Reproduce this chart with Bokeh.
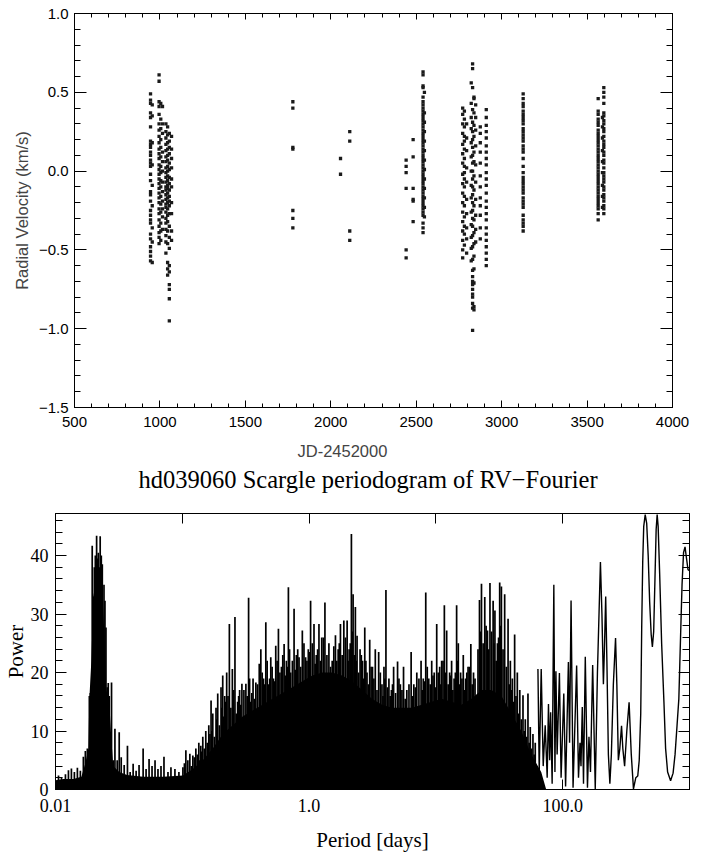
from bokeh.plotting import figure
from bokeh.layouts import column
from bokeh.models import FixedTicker, LinearAxis, LogAxis, CustomJSTickFormatter, Title
from bokeh.embed import file_html
from bokeh.resources import INLINE

# ---------------- top panel: radial velocities ----------------
season_jd = [945, 955, 995, 1005, 1015, 1035, 1045, 1055, 1068,
             1778, 2057, 2111, 2441, 2482, 2540, 2548,
             2772, 2782, 2795, 2822, 2830, 2838, 2848, 2875, 2910,
             3126, 3565, 3590, 3598]
season_rv = [
    [0.49, 0.45, 0.43, 0.37, 0.34, 0.28, 0.19, 0.17, 0.15, 0.12, 0.10, 0.07, 0.05, 0.03, -0.02,
     -0.06, -0.13, -0.15, -0.19, -0.25, -0.28, -0.31, -0.33, -0.40, -0.43, -0.48, -0.51, -0.54, -0.57],
    [0.42, 0.35, 0.18, 0.04, -0.09, -0.22, -0.36, -0.45, -0.58],
    [0.61, 0.57, 0.44, 0.41, 0.36, 0.30, 0.26, 0.22, 0.18, 0.14, 0.11, 0.08, 0.04, 0.01, -0.02,
     -0.05, -0.08, -0.11, -0.14, -0.17, -0.20, -0.24, -0.27, -0.31, -0.35, -0.39, -0.42, -0.46],
    [0.43, 0.33, 0.27, 0.20, 0.15, 0.09, 0.03, -0.01, -0.06, -0.10, -0.16, -0.21, -0.26, -0.33, -0.38, -0.44],
    [0.41, 0.30, 0.24, 0.12, 0.06, 0.0, -0.07, -0.13, -0.19, -0.24, -0.29, -0.37],
    [0.30, 0.25, 0.21, 0.17, 0.13, 0.09, 0.06, 0.02, -0.01, -0.04, -0.07, -0.10, -0.12, -0.15, -0.18,
     -0.21, -0.23, -0.26, -0.30, -0.33, -0.37, -0.41, -0.45, -0.52],
    [0.28, 0.23, 0.18, 0.14, 0.10, 0.07, 0.03, 0.0, -0.03, -0.06, -0.09, -0.11, -0.14, -0.17, -0.20,
     -0.24, -0.28, -0.32, -0.38, -0.46, -0.58, -0.62, -0.66],
    [0.24, 0.19, 0.15, 0.11, 0.05, 0.01, -0.04, -0.08, -0.12, -0.16, -0.19, -0.22, -0.27, -0.35, -0.42,
     -0.49, -0.60, -0.64, -0.72, -0.75, -0.81, -0.95],
    [0.22, 0.14, 0.08, 0.02, -0.05, -0.10, -0.20, -0.27, -0.38, -0.44],
    [0.44, 0.40, 0.15, 0.14, -0.25, -0.30, -0.36],
    [0.08, -0.02],
    [0.25, 0.19, -0.38, -0.44],
    [0.07, 0.03, -0.01, -0.11, -0.50, -0.55],
    [0.20, 0.09, -0.11, -0.18, -0.19, -0.32],
    [0.63, 0.61, 0.54, 0.53, 0.47, 0.44, 0.42, 0.40, 0.38, 0.36, 0.34, 0.32, 0.30, 0.28, 0.26, 0.24,
     0.22, 0.20, 0.18, 0.16, 0.14, 0.12, 0.10, 0.08, 0.06, 0.04, 0.02, 0.0, -0.02, -0.04, -0.06, -0.08,
     -0.10, -0.12, -0.14, -0.16, -0.18, -0.20, -0.22, -0.24, -0.26, -0.28, -0.33, -0.36, -0.39],
    [0.50, 0.37, 0.31, 0.25, 0.19, 0.13, 0.07, 0.01, -0.05, -0.11, -0.17, -0.23, -0.29],
    [0.40, 0.36, 0.30, 0.24, 0.17, 0.11, 0.05, -0.02, -0.08, -0.14, -0.20, -0.26, -0.32, -0.38, -0.44, -0.50, -0.55],
    [0.38, 0.33, 0.28, 0.22, 0.19, 0.14, 0.08, 0.03, -0.01, -0.05, -0.10, -0.16, -0.22, -0.29, -0.35, -0.40, -0.47],
    [0.30, 0.21, 0.13, 0.02, -0.07, -0.18, -0.27, -0.36, -0.43, -0.52],
    [0.56, 0.43, 0.34, 0.27, 0.18, 0.09, 0.0, -0.09, -0.17, -0.26, -0.34, -0.42, -0.49, -0.57],
    [0.68, 0.65, 0.53, 0.39, 0.31, 0.25, 0.20, 0.15, 0.10, 0.05, 0.0, -0.05, -0.10, -0.15, -0.20, -0.25,
     -0.30, -0.35, -0.41, -0.48, -0.56, -0.63, -0.67, -0.70, -0.72, -0.75, -0.78, -0.80, -0.84, -0.87, -1.01],
    [0.47, 0.46, 0.37, 0.29, 0.22, 0.12, 0.06, -0.03, -0.12, -0.22, -0.31, -0.39, -0.46, -0.54, -0.62, -0.71, -0.86, -0.88],
    [0.42, 0.34, 0.26, 0.16, 0.04, -0.07, -0.18, -0.28, -0.37, -0.45],
    [0.28, 0.24, 0.18, 0.12, 0.05, -0.03, -0.10, -0.17, -0.22, -0.28, -0.36, -0.43],
    [0.39, 0.34, 0.29, 0.25, 0.21, 0.16, 0.12, 0.08, 0.04, -0.01, -0.05, -0.09, -0.14, -0.19, -0.23,
     -0.27, -0.31, -0.36, -0.40, -0.44, -0.48, -0.52, -0.56, -0.60],
    [0.49, 0.46, 0.43, 0.41, 0.38, 0.36, 0.34, 0.32, 0.30, 0.27, 0.25, 0.23, 0.21, 0.19, 0.16, 0.14,
     0.12, 0.08, 0.03, -0.01, -0.04, -0.06, -0.08, -0.10, -0.12, -0.14, -0.17, -0.19, -0.21, -0.23,
     -0.28, -0.31, -0.33, -0.35, -0.38],
    [0.46, 0.38, 0.36, 0.33, 0.31, 0.29, 0.26, 0.24, 0.22, 0.20, 0.18, 0.16, 0.14, 0.12, 0.10, 0.08,
     0.06, 0.04, 0.02, 0.0, -0.02, -0.04, -0.06, -0.08, -0.10, -0.12, -0.14, -0.16, -0.18, -0.20,
     -0.22, -0.24, -0.27, -0.31],
    [0.34, 0.28, 0.21, 0.13, 0.06, -0.01, -0.09, -0.16, -0.23],
    [0.53, 0.50, 0.47, 0.43, 0.37, 0.35, 0.32, 0.30, 0.27, 0.25, 0.22, 0.19, 0.17, 0.15, 0.12, 0.10,
     0.07, 0.05, 0.02, -0.01, -0.03, -0.05, -0.07, -0.10, -0.12, -0.15, -0.17, -0.19, -0.22, -0.24, -0.27],
]
jd_tick_values = [500, 1000, 1500, 2000, 2500, 3000, 3500, 4000]
rv_tick_values = [-1.5, -1.0, -0.5, 0.0, 0.5, 1.0]
rv_tick_labels = ["\u22121.5", "\u22121.0", "\u22120.5", "0.0", "0.5", "1.0"]

# ---------------- bottom panel: periodogram ----------------
body_period = [0.0100, 0.01156, 0.01384, 0.0160, 0.0172, 0.01816, 0.01849, 0.01917, 0.01988, 0.02098,
               0.02215, 0.02339, 0.02424, 0.02514, 0.02654, 0.02751, 0.02853, 0.0318, 0.0367, 0.0491,
               0.0705, 0.1011, 0.1211, 0.1451, 0.1739, 0.2084, 0.250, 0.299, 0.358, 0.429,
               0.514, 0.616, 0.738, 0.884, 1.06, 1.27, 1.52, 1.82, 2.18, 2.62,
               3.13, 3.76, 4.50, 5.39, 6.46, 7.74, 9.27, 11.1, 13.3, 15.9,
               19.1, 22.9, 27.4, 32.9, 39.4, 47.1, 56.5, 67.7, 74.1]
body_power = [1.6, 1.8, 1.8, 2.2, 4.5, 7, 15.5, 22, 33, 36,
              37, 34, 27, 17, 15, 9, 4, 3, 2.5, 2.2,
              2.2, 2.4, 3.5, 5, 7, 9.5, 11, 12.5, 13.5, 14.5,
              15.5, 16.5, 17.5, 18.5, 19.5, 20, 20, 19.5, 18.5, 17,
              15.5, 14.5, 14, 14, 14, 14.5, 15, 15.5, 15, 14.5,
              15.5, 17, 17, 16, 13, 10, 6, 3, 0]

# tallest peaks of the dense forest
spike_period = [
    0.01056, 0.01115, 0.01198, 0.01265, 0.01335, 0.01409, 0.01488, 0.01571, 0.01659, 0.0172, 0.01783,
    0.01849, 0.01883, 0.01948, 0.01988, 0.02024, 0.02061, 0.0211, 0.02137, 0.02176, 0.02215,
    0.02251, 0.02297, 0.02339, 0.02412, 0.02455, 0.0250, 0.02559, 0.02606, 0.02654, 0.02766,
    0.02853, 0.02942, 0.03066, 0.0318, 0.03298, 0.03481, 0.03694, 0.03879, 0.04095, 0.04323,
    0.0456, 0.0491, 0.0518, 0.05469, 0.05772, 0.06095, 0.0643, 0.06792, 0.0717, 0.0771,
    0.08137, 0.08748, 0.09404, 0.1011, 0.1067, 0.1147, 0.1211, 0.1279, 0.1350, 0.1399,
    0.1451, 0.1532, 0.1618, 0.1686, 0.1739, 0.1845, 0.1903, 0.2020, 0.2084, 0.2160,
    0.2239, 0.2351, 0.2482, 0.2602, 0.2732, 0.2832, 0.2952, 0.3173, 0.3333, 0.3456,
    0.3614, 0.3803, 0.4045, 0.4163, 0.4371, 0.4557, 0.4783, 0.4986, 0.5236, 0.5458,
    0.573, 0.6051, 0.6353, 0.6622, 0.6867, 0.7157, 0.7612, 0.7935, 0.8331, 0.8844,
    0.9387, 0.9856, 1.0275, 1.093, 1.139, 1.196, 1.258, 1.333, 1.433, 1.521,
    1.614, 1.695, 1.767, 1.879, 1.995, 2.068, 2.156, 2.223, 2.317, 2.389,
    2.523, 2.640, 2.748, 2.862, 3.006, 3.162, 3.327, 3.538, 3.755, 3.894,
    4.036, 4.261, 4.458, 4.64, 4.985, 5.244, 5.556, 5.898, 6.378, 6.695,
    7.07, 7.638, 7.948, 8.318, 8.782, 9.268, 9.70, 10.15, 10.71, 11.10,
    11.66, 12.16, 12.83, 13.30, 13.92, 14.57, 15.02, 15.66, 16.44, 17.14,
    17.93, 18.86, 19.80, 20.91, 22.07, 22.88, 24.29, 25.51, 26.69, 28.27,
    29.21, 30.56, 31.85, 32.85, 34.86, 37.08, 38.65, 40.07, 41.78, 43.86,
    45.88, 48.62, 50.70, 53.22, 55.48, 58.26, 60.74]
spike_power = [
    2.4, 2.1, 2.6, 3.3, 3.6, 3.0, 3.7, 3.2, 5.6, 6.6, 7,
    16, 16.5, 41.7, 33, 38, 40, 43.4, 39.5, 40.5, 38,
    43.3, 40, 38.5, 35, 32.3, 27.7, 17.5, 18.2, 16, 18.3,
    5, 10.4, 5, 9.8, 5.5, 4.2, 7.5, 3, 4.4, 3.2,
    4.2, 7, 3.5, 5.2, 4, 5, 3.5, 4, 5.6, 3,
    3.8, 3.5, 3, 3.8, 6.7, 6.1, 5.8, 7, 8, 7.5,
    9, 10, 11, 15.2, 13, 14, 16.4, 17.5, 19.5, 16,
    20, 28.3, 20.6, 29.5, 15, 17, 18.1, 18.1, 32.8, 15,
    19, 18.3, 21.5, 24, 19, 28.6, 18, 22.6, 19, 24.6,
    27.5, 21, 24.9, 22, 34.6, 20, 30.9, 23, 22.6, 27.2,
    22.6, 24, 32.3, 28.3, 23, 28.3, 26, 32, 25, 22,
    26.4, 24, 28.3, 28.9, 28.9, 24, 43.7, 33.4, 31.2, 26.3,
    24, 22, 27.7, 20, 25.6, 21, 24, 23.5, 18, 21,
    34.1, 19, 17, 21, 21.9, 18, 21, 17, 23.5, 18,
    20, 22, 19, 33.7, 19, 22, 20, 28.3, 21, 22,
    31.5, 27.2, 20, 22, 19, 31.5, 25, 20, 23, 19,
    21, 24.9, 20, 15.2, 32.4, 35.2, 32.9, 27.2, 35.3, 32.3,
    30.6, 25, 35.4, 34.7, 33.4, 29.2, 22, 19, 26.5, 20,
    17, 16.1, 12, 16.4, 10.7, 9.5, 8]

# lower peaks filling the forest between the tall ones
mid_period = [
    0.1039, 0.1106, 0.1179, 0.1245, 0.1314, 0.1374, 0.1425, 0.1491, 0.1574, 0.1652,
    0.1712, 0.1791, 0.1874, 0.1961, 0.2052, 0.2122, 0.2199, 0.2294, 0.2416, 0.2541,
    0.2666, 0.2782, 0.2891, 0.3061, 0.3252, 0.3394, 0.3534, 0.3707, 0.3922, 0.4103,
    0.4266, 0.4463, 0.4669, 0.4883, 0.5109, 0.5346, 0.5592, 0.5888, 0.6200, 0.6486,
    0.6743, 0.7011, 0.7381, 0.7772, 0.8131, 0.8584, 0.9111, 0.9619, 1.0063, 1.0597,
    1.1158, 1.1672, 1.2266, 1.2950, 1.3821, 1.4764, 1.5668, 1.654, 1.7306, 1.822,
    1.936, 2.031, 2.112, 2.189, 2.270, 2.353, 2.455, 2.581, 2.693, 2.805,
    2.933, 3.083, 3.244, 3.431, 3.645, 3.824, 3.964, 4.147, 4.358, 4.548,
    4.809, 5.113, 5.398, 5.724, 6.133, 6.535, 6.880, 7.349, 7.791, 8.131,
    8.547, 9.022, 9.482, 9.922, 10.43, 10.90, 11.38, 11.91, 12.49, 13.06,
    13.61, 14.24, 14.79, 15.34, 16.05, 16.79, 17.53, 18.39, 19.32, 20.35,
    21.48, 22.47, 23.57, 24.89, 26.09, 27.47, 28.74, 29.88, 31.20, 32.35,
    33.84, 35.95, 37.86, 39.35, 40.92, 42.81, 44.86, 47.23, 49.65, 51.95,
    54.34, 56.85, 59.49]
mid_power = [
    4.5, 5, 4, 5.5, 6, 5, 6.5, 7, 8, 9.5,
    10, 9, 12, 11, 14, 12.5, 15, 16, 14, 17,
    13, 16, 14.5, 17, 16, 19, 16.5, 15.5, 18, 17,
    20, 18, 22, 19, 21, 18.5, 22, 20, 23, 19.5,
    21, 24, 22, 20.5, 24, 21, 25, 22, 23.5, 25,
    21.5, 24, 22, 26, 23, 21, 24.5, 22, 25, 23,
    26, 22, 25, 27, 23, 22, 20, 23, 19, 22,
    18, 21, 19, 17, 20, 16, 19, 17.5, 16, 18,
    16.5, 19, 17, 15.5, 18, 16, 17.5, 19, 17, 18.5,
    21, 18, 19.5, 17.5, 20, 18, 22, 20, 18, 19.5,
    17, 20, 22, 18, 19, 17, 20, 21, 18, 19,
    24, 27, 25, 28, 24, 27, 25, 22, 26, 28,
    24, 21, 18, 17, 15, 16, 13, 12, 10, 9,
    8, 7, 6]

tail_period = [63.78, 65.28, 67.69, 70.19, 72.77, 75.45, 77.23, 78.93, 80.35, 82.56,
               85.13, 86.85, 88.43, 90.36, 94.21, 97.14, 102.0, 105.4, 110.9, 113.3,
               116.4, 120.7, 128.8, 133.2, 136.9, 139.4, 142.7, 145.9, 150.7, 156.8,
               161.1, 165.6, 172.3, 180.6, 187.9, 198.4, 203.9, 209.4, 213.3, 218.3,
               223.1, 229.2, 235.5, 242.0, 250.9, 261.1, 267.3, 274.7, 282.2, 291.1,
               298.0, 307.8, 320.3, 333.9, 347.4, 361.5, 376.8, 390.7, 401.4, 412.5,
               420.0, 427.7, 435.5, 447.4, 459.7, 472.3, 485.3, 498.6, 509.6, 521.7,
               534.1, 545.8, 555.8, 565.9, 581.5, 602.9, 628.5, 648.0, 672.0, 709.4,
               742.2, 769.4, 797.8, 824.1, 849.8, 873.4, 897.4, 922.0, 947.3, 973.2, 1000]
tail_power = [20.6, 3, 20.6, 4, 11, 2, 14.6, 5, 13.2, 1,
              35, 3, 20.2, 6, 19.9, 2, 16.4, 0.5, 21.8, 8,
              32.3, 0.3, 21.2, 2, 8, 4, 14.1, 1, 22.7, 0.3,
              9, 3, 21.3, 0.1, 20, 38.9, 30, 18, 24, 33,
              22, 6, 1.0, 6, 18, 25.9, 18, 5, 7, 10.9,
              7, 4, 10, 14.9, 6, 0.1, 2.0, 2.3, 5, 13,
              28, 39, 45, 47.0, 45.5, 40, 32, 26.5, 24.4, 27,
              36, 44.5, 47.0, 45, 37, 25, 15, 7, 3, 1.5,
              2.8, 6, 11, 15.5, 26, 35, 40.5, 41.5, 39.5, 37.6, 37.4]

period_tick_values = [0.01, 0.1, 1.0, 10.0, 100.0, 1000.0]
period_tick_labels = ["0.01", "", "1.0", "", "100.0", ""]
power_tick_values = [0, 10, 20, 30, 40]

assert len(body_period) == len(body_power)
assert len(spike_period) == len(spike_power)
assert len(mid_period) == len(mid_power)
assert len(tail_period) == len(tail_power)

jd, rv = [], []
for t, vals in zip(season_jd, season_rv):
    jd.extend([t] * len(vals))
    rv.extend(vals)

SANS = "Liberation Sans"
SERIF = "Liberation Serif"
blank = CustomJSTickFormatter(code="return ''")


def style_axis(ax, font, size, major_in, minor_in, standoff):
    ax.major_tick_in = major_in
    ax.major_tick_out = 0
    ax.minor_tick_in = minor_in
    ax.minor_tick_out = 0
    ax.axis_line_color = "black"
    ax.major_tick_line_color = "black"
    ax.minor_tick_line_color = "black"
    ax.major_label_text_font = font
    ax.major_label_text_font_size = size
    ax.major_label_text_color = "black"
    ax.major_label_standoff = standoff


def no_frame_align(p):
    if "frame_align" in p.properties():
        p.frame_align = False


# ---------------- figure 1 (includes the periodogram title below it) ----------------
p1 = figure(width=704, height=496, x_range=(500, 4000), y_range=(-1.5, 1.0),
            output_backend="svg", toolbar_location=None,
            min_border_left=74, min_border_right=32, min_border_top=13, min_border_bottom=89)
no_frame_align(p1)
p1.title.visible = False
p1.grid.visible = False
p1.outline_line_color = "black"
p1.background_fill_color = "white"
p1.border_fill_color = "white"

jd_minor = list(range(500, 4001, 100))
rv_minor = [round(-1.5 + 0.1 * i, 1) for i in range(26)]

xa = p1.xaxis[0]
xa.ticker = FixedTicker(ticks=jd_tick_values, minor_ticks=jd_minor)
style_axis(xa, SANS, "15px", 7, 4, 9)

ya = p1.yaxis[0]
ya.ticker = FixedTicker(ticks=rv_tick_values, minor_ticks=rv_minor)
ya.major_label_overrides = dict(zip(rv_tick_values, rv_tick_labels))
style_axis(ya, SANS, "15px", 12, 6, 6)
ya.axis_label = "Radial Velocity (km/s)"
ya.axis_label_text_font = SANS
ya.axis_label_text_font_size = "16.5px"
ya.axis_label_text_font_style = "normal"
ya.axis_label_standoff = 5

top1 = LinearAxis(ticker=FixedTicker(ticks=jd_tick_values, minor_ticks=jd_minor), formatter=blank)
style_axis(top1, SANS, "15px", 6, 4, 0)
p1.add_layout(top1, "above")
right1 = LinearAxis(ticker=FixedTicker(ticks=rv_tick_values, minor_ticks=rv_minor), formatter=blank)
style_axis(right1, SANS, "15px", 12, 6, 0)
p1.add_layout(right1, "right")

p1.add_layout(Title(text="JD-2452000", align="left", offset=223, text_font=SANS,
                    text_font_size="16.5px", text_font_style="normal", standoff=20), "below")
main_title = Title(text="hd039060 Scargle periodogram of RV\u2212Fourier", align="left", offset=64,
                   text_font=SERIF, text_font_size="24.5px", text_font_style="normal",
                   text_color="black", standoff=0)
try:
    main_title.standoff = -12
except ValueError:
    pass
p1.add_layout(main_title, "below")

p1.scatter(jd, rv, marker="square", size=3.3, fill_color="#1a1a1a", line_color=None)

# ---------------- figure 2 ----------------
p2 = figure(width=704, height=362, x_axis_type="log", x_range=(0.01, 1000), y_range=(0, 47.2),
            output_backend="svg", toolbar_location=None,
            min_border_left=52, min_border_right=15, min_border_top=17, min_border_bottom=69)
no_frame_align(p2)
p2.title.visible = False
p2.grid.visible = False
p2.outline_line_color = "black"
p2.background_fill_color = "white"
p2.border_fill_color = "white"

xb = p2.xaxis[0]
xb.ticker = FixedTicker(ticks=period_tick_values, minor_ticks=[])
xb.major_label_overrides = dict(zip(period_tick_values, period_tick_labels))
style_axis(xb, SERIF, "18px", 10, 0, 9)
xb.axis_label = "Period [days]"
xb.axis_label_text_font = SERIF
xb.axis_label_text_font_size = "21px"
xb.axis_label_text_font_style = "normal"
xb.axis_label_text_color = "black"
xb.axis_label_standoff = 13

yb = p2.yaxis[0]
power_minor = list(range(0, 48, 2))
yb.ticker = FixedTicker(ticks=power_tick_values, minor_ticks=power_minor)
style_axis(yb, SERIF, "18px", 11, 7, 7)
yb.axis_label = "Power"
yb.axis_label_text_font = SERIF
yb.axis_label_text_font_size = "21px"
yb.axis_label_text_font_style = "normal"
yb.axis_label_text_color = "black"
yb.axis_label_standoff = 0

top2 = LogAxis(ticker=FixedTicker(ticks=period_tick_values, minor_ticks=[]), formatter=blank)
style_axis(top2, SERIF, "18px", 10, 0, 0)
p2.add_layout(top2, "above")
right2 = LinearAxis(ticker=FixedTicker(ticks=power_tick_values, minor_ticks=power_minor), formatter=blank)
style_axis(right2, SERIF, "18px", 11, 7, 0)
p2.add_layout(right2, "right")

p2.varea(x=body_period, y1=0, y2=body_power, fill_color="black")
p2.segment(x0=mid_period, y0=0, x1=mid_period, y1=mid_power, line_color="black", line_width=1.7)
p2.segment(x0=spike_period, y0=0, x1=spike_period, y1=spike_power, line_color="black", line_width=1.7)
p2.line(tail_period, tail_power, line_color="black", line_width=1.4)

layout = column(p1, p2, spacing=0)
open("out.html", "w").write(file_html(layout, INLINE))
